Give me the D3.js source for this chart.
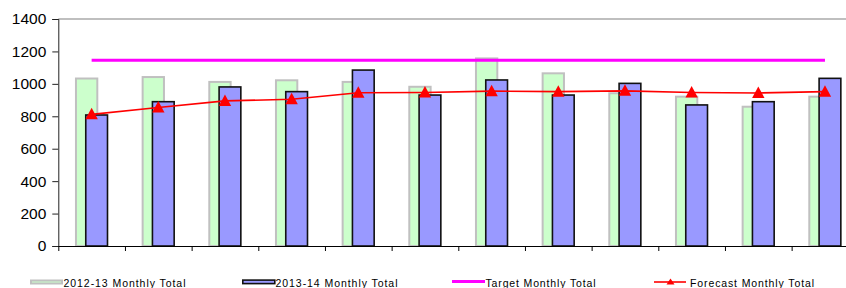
<!DOCTYPE html>
<html>
<head>
<meta charset="utf-8">
<script src="https://cdn.jsdelivr.net/npm/d3@7"></script>
<style>
  body { margin: 0; background: #fff; }
  svg { display: block; font-family: Arial, "Liberation Sans", sans-serif; }
</style>
</head>
<body>
<script>
var width  = 846
var height = 288
var margin = { top: 19, left: 58.3, bottom: 42 }

// data
var months   = ['Apr', 'May', 'Jun', 'Jul', 'Aug', 'Sep', 'Oct', 'Nov', 'Dec', 'Jan', 'Feb', 'Mar']
var total1213 = [1033, 1042, 1012, 1022, 1012, 982, 1157, 1065, 942, 921, 859, 921]
var total1314 = [808, 890, 981, 952, 1085, 931, 1024, 931, 1003, 870, 890, 1034]
var forecast  = [812, 854, 895, 905, 945, 947, 955, 952, 957, 947, 944, 952]
var target    = 1146
var yTicks    = [0, 200, 400, 600, 800, 1000, 1200, 1400]

var legendItems = [
  { label: '2012-13 Monthly Total', type: 'green', x: 30,  len: 122 },
  { label: '2013-14 Monthly Total', type: 'blue',  x: 242, len: 122 },
  { label: 'Target Monthly Total',  type: 'target', x: 452, len: 110 },
  { label: 'Forecast Monthly Total', type: 'forecast', x: 654, len: 124 }
]

var svg = d3.select('body')
  .append('svg')
  .attr('width', width)
  .attr('height', height)

// the plot runs past the right edge of the window (cropped like the original)
var x = d3.scaleBand()
  .domain(months)
  .range([margin.left, margin.left + 800])
  .padding(0)

var y = d3.scaleLinear()
  .domain([0, 1400])
  .range([height - margin.bottom, margin.top])

var bw = x.bandwidth()

// top border of plot area
svg.append('line')
  .attr('x1', margin.left).attr('x2', width)
  .attr('y1', y(1400)).attr('y2', y(1400))
  .attr('stroke', '#808080')
  .attr('stroke-width', 1.2)

// 2012-13 bars
svg.selectAll('rect.g')
  .data(total1213)
  .enter()
  .append('rect')
  .attr('class', 'g')
  .attr('x', (d, i) => x(months[i]) + 0.25 * bw + 1)
  .attr('y', d => y(d))
  .attr('width', 0.35 * bw - 2)
  .attr('height', d => y(0) - y(d))
  .attr('fill', '#ccffcc')
  .attr('stroke', '#c0c0c0')
  .attr('stroke-width', 2)

// 2013-14 bars
svg.selectAll('rect.b')
  .data(total1314)
  .enter()
  .append('rect')
  .attr('class', 'b')
  .attr('x', (d, i) => x(months[i]) + 0.40 * bw + 0.8)
  .attr('y', d => y(d))
  .attr('width', 0.35 * bw - 1.6)
  .attr('height', d => y(0) - y(d))
  .attr('fill', '#9999ff')
  .attr('stroke', '#111')
  .attr('stroke-width', 1.6)

// axes
var yAxis = d3.axisLeft(y)
  .tickValues(yTicks)
  .tickFormat(d3.format('d'))
  .tickSizeOuter(0)
  .tickSize(6)
  .tickPadding(6)

var yG = svg.append('g')
  .attr('transform', 'translate(' + [margin.left, 0] + ')')
  .call(yAxis)
yG.selectAll('text').attr('font-size', 15.5).attr('fill', '#000')
yG.selectAll('line, path').attr('stroke', '#222')

var xTickScale = d3.scaleLinear().domain([0, months.length]).range(x.range())
var xAxis = d3.axisBottom(xTickScale)
  .ticks(months.length)
  .tickSize(5)
  .tickSizeOuter(0)
  .tickFormat('')

var xG = svg.append('g')
  .attr('transform', 'translate(' + [0, y(0)] + ')')
  .call(xAxis)
xG.selectAll('line, path').attr('stroke', '#000')

// target line
var centre = m => x(m) + bw / 2
svg.append('line')
  .attr('x1', centre(months[0]))
  .attr('x2', centre(months[months.length - 1]))
  .attr('y1', y(target)).attr('y2', y(target))
  .attr('stroke', '#ff00ff')
  .attr('stroke-width', 3)

// forecast line + markers
var line = d3.line()
  .x((d, i) => centre(months[i]))
  .y(d => y(d))

svg.append('path')
  .datum(forecast)
  .attr('d', line)
  .attr('fill', 'none')
  .attr('stroke', '#ff0000')
  .attr('stroke-width', 1.6)

var tri = 'M0,-6.5L6.2,5L-6.2,5Z'
svg.selectAll('path.tri')
  .data(forecast)
  .enter()
  .append('path')
  .attr('class', 'tri')
  .attr('d', tri)
  .attr('transform', (d, i) => 'translate(' + [centre(months[i]), y(d)] + ')')
  .attr('fill', '#ff0000')

// legend
var lg = svg.selectAll('g.legend')
  .data(legendItems)
  .enter()
  .append('g')
  .attr('class', 'legend')
  .attr('transform', d => 'translate(' + [d.x, 0] + ')')

lg.each(function(d) {
  var g = d3.select(this)
  if (d.type === 'green') {
    g.append('rect').attr('x', 1).attr('y', 280.5).attr('width', 31).attr('height', 3)
      .attr('fill', '#ccffcc').attr('stroke', '#c0c0c0').attr('stroke-width', 2)
  } else if (d.type === 'blue') {
    g.append('rect').attr('x', 0.8).attr('y', 280.1).attr('width', 32).attr('height', 3.5)
      .attr('fill', '#9999ff').attr('stroke', '#111').attr('stroke-width', 1.6)
  } else if (d.type === 'target') {
    g.append('line').attr('x1', 0).attr('x2', 33).attr('y1', 281.5).attr('y2', 281.5)
      .attr('stroke', '#ff00ff').attr('stroke-width', 3)
  } else {
    g.append('line').attr('x1', 0).attr('x2', 32).attr('y1', 282).attr('y2', 282)
      .attr('stroke', '#ff0000').attr('stroke-width', 1.6)
    g.append('path').attr('d', 'M0,-3.5L4,2.5L-4,2.5Z')
      .attr('transform', 'translate(16.5,282)').attr('fill', '#ff0000')
  }
  g.append('text')
    .attr('x', d.type === 'forecast' ? 36 : 33.5)
    .attr('y', 287)
    .attr('font-size', 10.5)
    .attr('textLength', d.len)
    .attr('lengthAdjust', 'spacing')
    .attr('fill', '#000')
    .text(d.label)
})
</script>
</body>
</html>
